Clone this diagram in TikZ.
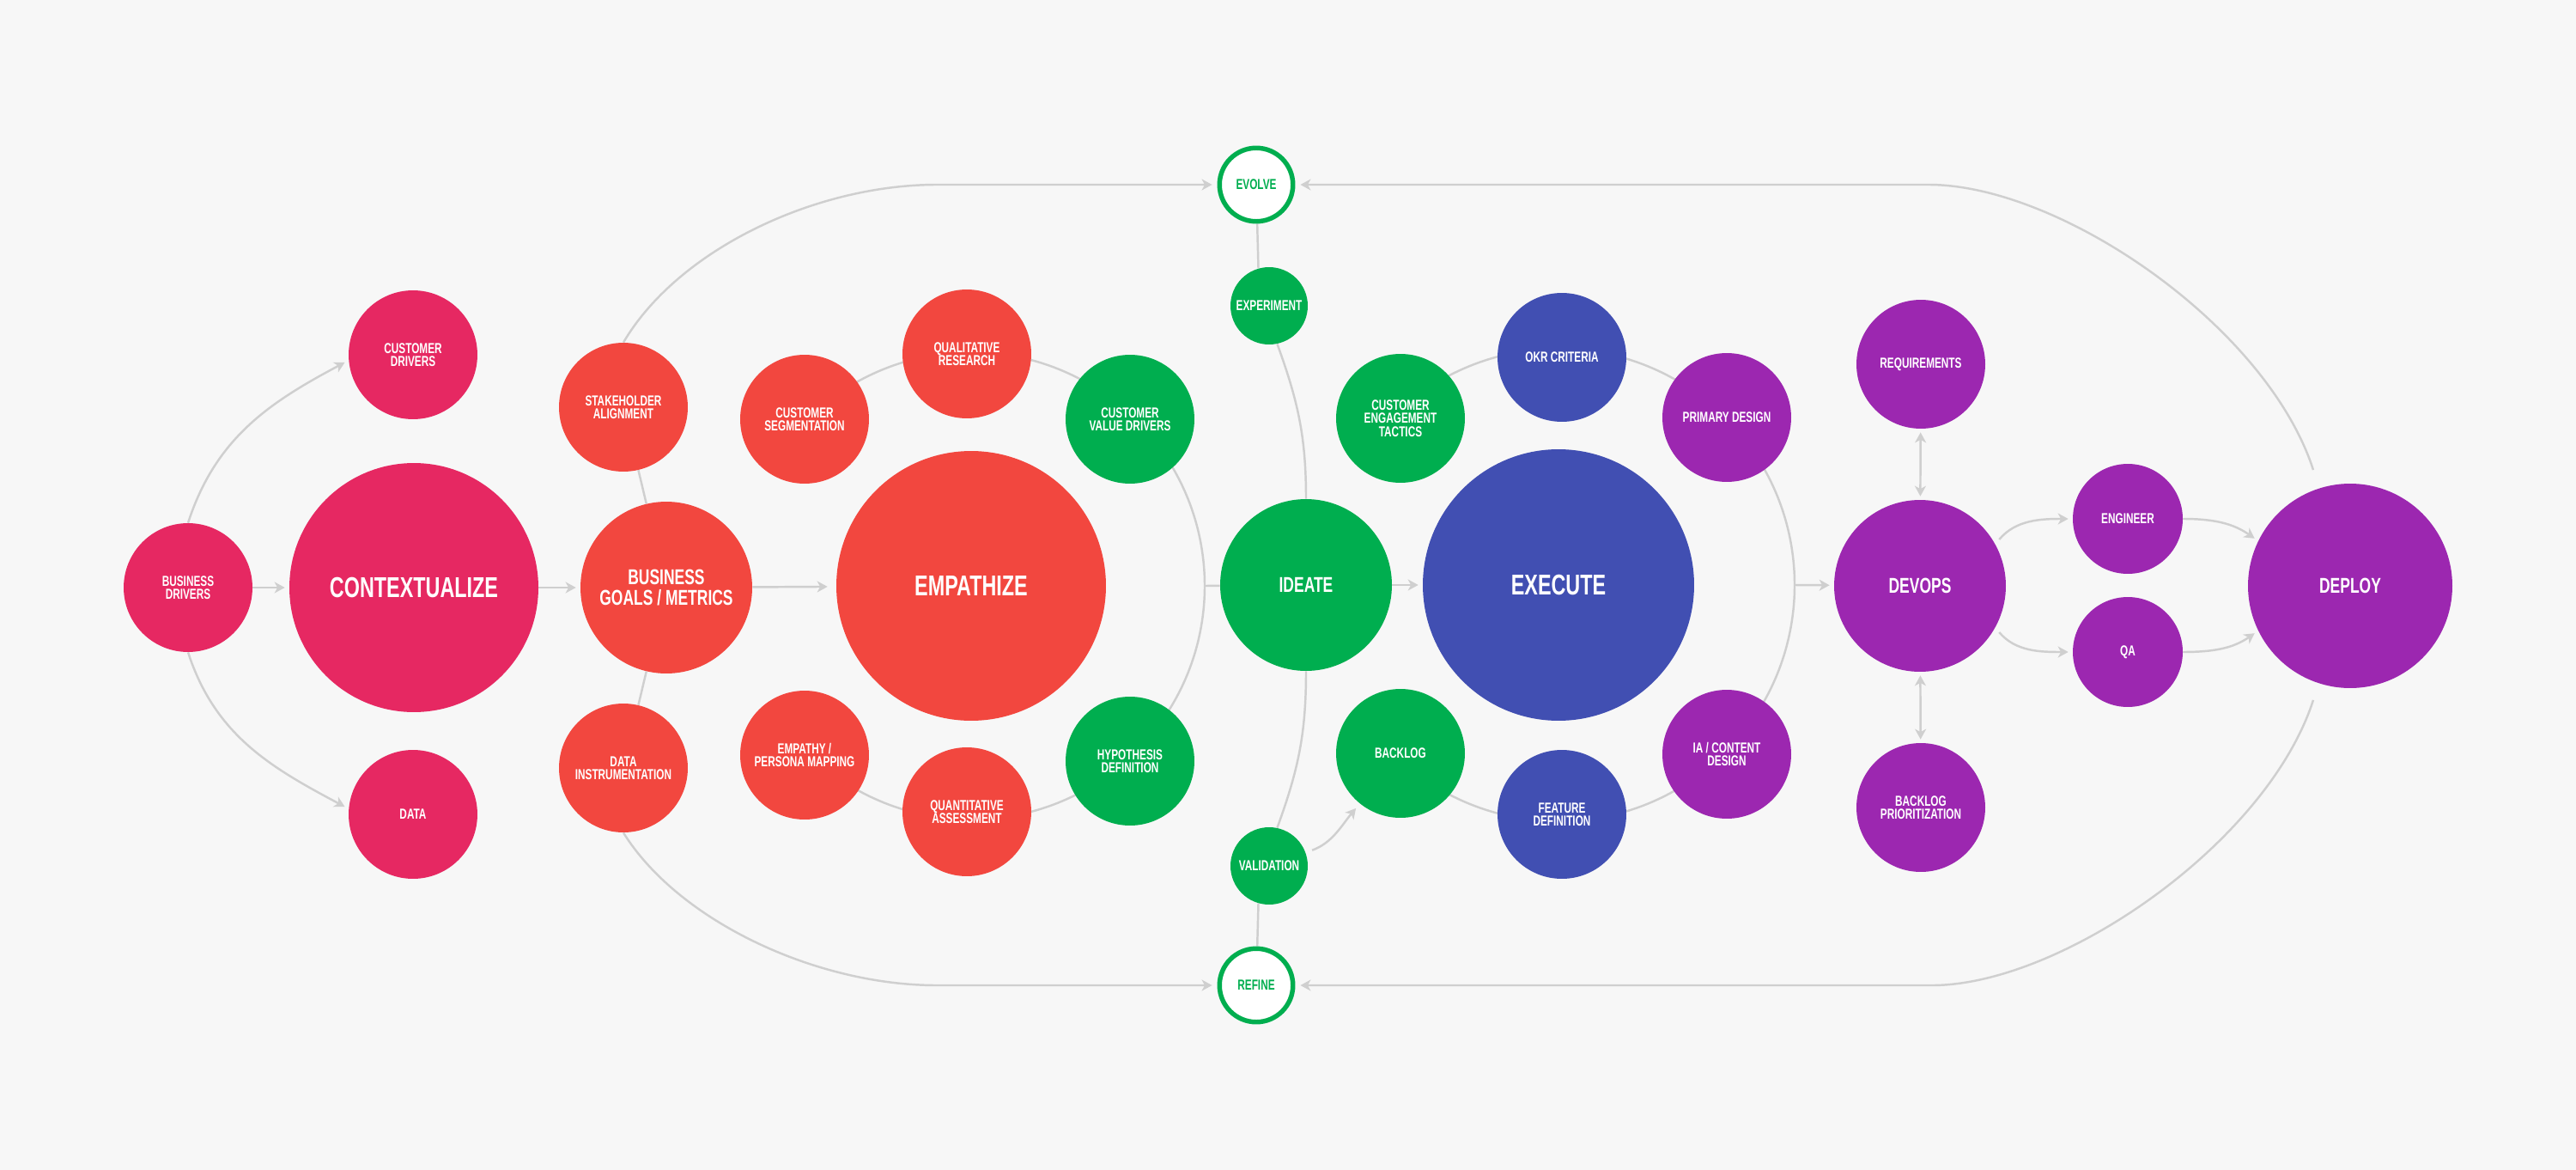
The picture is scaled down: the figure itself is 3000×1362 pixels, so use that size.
\documentclass[tikz,border=0pt]{standalone}
\usepackage{fontspec}
\newfontfamily\lblfont{Liberation Sans}[FakeStretch=0.7]
\usetikzlibrary{arrows.meta,backgrounds}

\definecolor{cpink}{HTML}{E62862}
\definecolor{cred}{HTML}{F2473F}
\definecolor{cgreen}{HTML}{00AE4F}
\definecolor{cblue}{HTML}{414FB2}
\definecolor{cpurple}{HTML}{9C27B0}
\definecolor{lgray}{HTML}{CFCFCF}
\definecolor{paper}{HTML}{F7F7F7}

\newcommand\fsmall{\lblfont\bfseries\fontsize{9.6}{8.7}\selectfont}
\newcommand\fmid{\lblfont\bfseries\fontsize{14.2}{13.6}\selectfont}
\newcommand\fbig{\lblfont\bfseries\fontsize{19}{19}\selectfont}

\begin{document}
\begin{tikzpicture}[
  x=0.02cm, y=0.02cm,
  bub/.style={circle, inner sep=0pt, align=center, text=white, font=\fsmall},
  satb/.style={bub, minimum size=3cm},
  corb/.style={bub, minimum size=4cm, font=\fmid},
  hubb/.style={bub, minimum size=6.28cm, font=\fbig},
  tinyb/.style={bub, minimum size=1.8cm},
  loopb/.style={circle, inner sep=0pt, minimum size=1.71cm, draw=cgreen, line width=3.1pt, fill=white, text=cgreen, font=\fsmall},
  link/.style={draw=lgray, line width=1.4pt},
  arr/.style={link, -{Stealth[length=0.24cm, width=0.26cm, inset=0.07cm]}, shorten >=0.1cm},
  darr/.style={link, {Stealth[length=0.24cm, width=0.26cm, inset=0.07cm]}-{Stealth[length=0.24cm, width=0.26cm, inset=0.07cm]}, shorten >=0.08cm, shorten <=0.08cm},
]
  % Contextualize
  \node[hubb, fill=cpink, minimum size=5.8cm] (ctx) at (482,-684) {CONTEXTUALIZE};
  \node[satb, fill=cpink] (bd) at (219,-684) {BUSINESS\\DRIVERS};
  \node[satb, fill=cpink] (cd) at (481,-413) {CUSTOMER\\DRIVERS};
  \node[satb, fill=cpink] (data) at (481,-948) {DATA};

  % Empathize
  \node[corb, fill=cred] (bg) at (776,-684) {BUSINESS\\GOALS / METRICS};
  \node[satb, fill=cred] (sa) at (726,-474) {STAKEHOLDER\\ALIGNMENT};
  \node[satb, fill=cred] (di) at (726,-894) {DATA\\INSTRUMENTATION};
  \node[hubb, fill=cred] (emp) at (1131,-682) {EMPATHIZE};
  \node[satb, fill=cred] (cs) at (937,-488) {CUSTOMER\\SEGMENTATION};
  \node[satb, fill=cred] (qr) at (1126,-412) {QUALITATIVE\\RESEARCH};
  \node[satb, fill=cgreen] (cvd) at (1316,-488) {CUSTOMER\\VALUE DRIVERS};
  \node[satb, fill=cred] (epm) at (937,-879) {EMPATHY /\\PERSONA MAPPING};
  \node[satb, fill=cred] (qas) at (1126,-945) {QUANTITATIVE\\ASSESSMENT};
  \node[satb, fill=cgreen] (hd) at (1316,-886) {HYPOTHESIS\\DEFINITION};

  % Ideate
  \node[loopb] (evolve) at (1463,-215) {EVOLVE};
  \node[tinyb, fill=cgreen] (exp) at (1478,-356) {EXPERIMENT};
  \node[corb, fill=cgreen] (ideate) at (1521,-681) {IDEATE};
  \node[tinyb, fill=cgreen] (val) at (1478,-1008) {VALIDATION};
  \node[loopb] (refine) at (1463,-1147) {REFINE};

  % Execute
  \node[hubb, fill=cblue, minimum size=6.32cm] (exe) at (1815,-681) {EXECUTE};
  \node[satb, fill=cgreen] (cet) at (1631,-487) {CUSTOMER\\ENGAGEMENT\\TACTICS};
  \node[satb, fill=cblue] (okr) at (1819,-416) {OKR CRITERIA};
  \node[satb, fill=cpurple] (pd) at (2011,-486) {PRIMARY DESIGN};
  \node[satb, fill=cgreen] (blog) at (1631,-877) {BACKLOG};
  \node[satb, fill=cblue] (fd) at (1819,-948) {FEATURE\\DEFINITION};
  \node[satb, fill=cpurple] (ia) at (2011,-878) {IA / CONTENT\\DESIGN};

  % Deploy
  \node[corb, fill=cpurple] (devops) at (2236,-682) {DEVOPS};
  \node[satb, fill=cpurple] (req) at (2237,-424) {REQUIREMENTS};
  \node[satb, fill=cpurple] (bp) at (2237,-940) {BACKLOG\\PRIORITIZATION};
  \node[satb, fill=cpurple, minimum size=2.56cm] (eng) at (2478,-604) {ENGINEER};
  \node[satb, fill=cpurple, minimum size=2.56cm] (qa) at (2478,-759) {QA};
  \node[corb, fill=cpurple, minimum size=4.76cm] (deploy) at (2737,-682) {DEPLOY};

  \begin{scope}[on background layer]
    \fill[paper] (0,0) rectangle (3000,-1362);

    % rings behind the bubbles
    \draw[link] (emp.center) ++(135:272) arc[start angle=135, end angle=-135, radius=272];
    \draw[link] (exe.center) ++(133:275) arc[start angle=133, end angle=-133, radius=275];
    \coordinate (empr) at (1403,-682);
    \coordinate (exer) at (2090,-681);

    % left part
    \draw[arr] (bd) -- (ctx);
    \draw[arr] (bd.north) to[out=72, in=208] (cd.185);
    \draw[arr] (bd.south) to[out=-72, in=152] (data.175);
    \draw[arr] (ctx) -- (bg);
    \draw[arr, shorten >=0.2cm] (bg) -- (emp);
    \draw[link] (bg) -- (sa);
    \draw[link] (bg) -- (di);
    \draw[arr, shorten >=0.12cm] (sa.north) .. controls (790,-290) and (950,-215) .. (1091,-215) -- (evolve);
    \draw[arr, shorten >=0.12cm] (di.south) .. controls (790,-1072) and (950,-1147) .. (1091,-1147) -- (refine);

    % ideate loop
    \draw[link] (empr) -- (ideate);
    \draw[link] (evolve) -- (exp.106);
    \draw[link] (exp.-78) to[out=-70, in=90] (ideate.north);
    \draw[link] (ideate.south) to[out=-90, in=70] (val.78);
    \draw[link] (val.-106) -- (refine);
    \draw[arr, shorten <=0.16cm, shorten >=0.14cm] (val.20) to[out=20, in=-130] (blog.231);
    \draw[arr] (ideate) -- (exe);

    % devops and deploy
    \draw[arr] (exer) -- (devops);
    \draw[darr] (req) -- (devops);
    \draw[darr] (devops) -- (bp);
    \draw[arr, shorten <=0.14cm] (devops.29) to[out=50, in=180] (eng.west);
    \draw[arr, shorten <=0.14cm] (devops.-29) to[out=-50, in=180] (qa.west);
    \draw[arr] (eng.east) to[out=0, in=145] (deploy.154);
    \draw[arr] (qa.east) to[out=0, in=-145] (deploy.-154);
    \coordinate (dtop) at (2694,-547);
    \coordinate (dbot) at (2694,-815);
    \draw[arr, shorten >=0.12cm] (dtop) .. controls (2640,-380) and (2400,-215) .. (2246,-215) -- (evolve);
    \draw[arr, shorten >=0.12cm] (dbot) .. controls (2640,-982) and (2400,-1147) .. (2250,-1147) -- (refine);
  \end{scope}
\end{tikzpicture}
\end{document}
